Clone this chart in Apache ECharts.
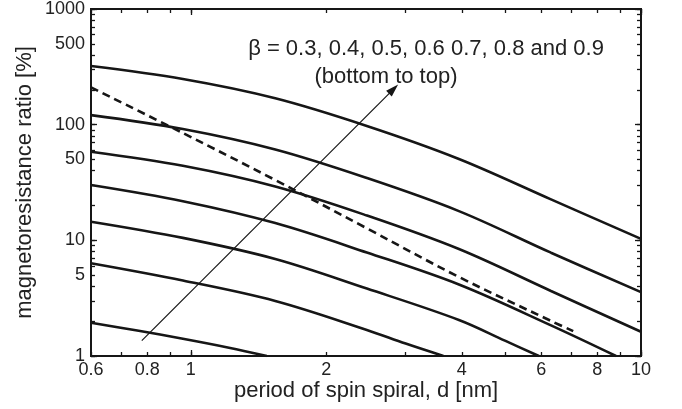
<!DOCTYPE html>
<html>
<head>
<meta charset="utf-8">
<script src="https://cdn.jsdelivr.net/npm/echarts@6/dist/echarts.min.js"></script>
<style>
  html, body { margin: 0; padding: 0; background: #fff; }
  #main { width: 682px; height: 409px; }
</style>
</head>
<body>
<div id="main"></div>
<script>
// MR ratio [%] vs spin spiral period d [nm], one curve per beta (top = 0.9)
const beta09 = [[0.6, 321], [0.96, 248], [1.54, 169], [2.46, 97.4], [3.94, 50.5], [6.31, 22.6], [10, 10.3]];
const beta08 = [[0.6, 121], [0.96, 91.7], [1.54, 61], [2.46, 34.6], [3.94, 17.9], [6.31, 7.82], [10, 3.57]];
const beta07 = [[0.6, 58.4], [0.96, 44.1], [1.54, 29.2], [2.46, 16.4], [3.94, 8.41], [6.31, 3.65], [10, 1.62]];
const beta06 = [[0.6, 30.1], [0.96, 21.8], [1.54, 14.1], [2.46, 7.85], [3.94, 4.15], [6.31, 1.84], [8.8, 1]];
const beta05 = [[0.6, 14.5], [0.96, 10.5], [1.54, 6.9], [2.46, 3.83], [3.94, 2.05], [5.0, 1.35], [5.93, 1]];
const beta04 = [[0.6, 6.33], [0.96, 4.49], [1.54, 2.99], [2.46, 1.68], [3.0, 1.28], [3.64, 1]];
const beta03 = [[0.6, 1.94], [0.76, 1.66], [0.96, 1.41], [1.215, 1.18], [1.475, 1]];
const dashedCurve = [[0.6, 210], [0.96, 84.7], [1.54, 33.2], [2.46, 12.7], [3.94, 4.82], [6.31, 2.01], [7.07, 1.64]];

const arrowFrom = [0.778, 1.36];
const arrowTo = [2.82, 203];

const xTicks = [0.6, 0.7, 0.8, 0.9, 1, 2, 3, 4, 5, 6, 7, 8, 9, 10];
const xMajor = [1, 10];
const xLabels = [0.6, 0.8, 1, 2, 4, 6, 8, 10];
const yTicks = [1, 2, 3, 4, 5, 6, 7, 8, 9, 10, 20, 30, 40, 50, 60, 70, 80, 90, 100,
  200, 300, 400, 500, 600, 700, 800, 900, 1000];
const yMajor = [1, 10, 100, 1000];
const yLabels = [1, 5, 10, 50, 100, 500, 1000];

const FONT = 'Liberation Sans, Arial, sans-serif';
const INK = '#161616';
const lg = v => Math.log10(v);

// linear helper axis in log10 units, only used for ticks and labels
function tickAxis(pos, min, max, ticks, len, labels) {
  return {
    type: 'value',
    position: pos,
    min: min,
    max: max,
    axisLine: { show: false, onZero: false },
    splitLine: { show: false },
    axisTick: {
      inside: true,
      length: len,
      customValues: ticks.map(lg),
      lineStyle: { color: INK, width: 1.3 }
    },
    axisLabel: labels ? {
      customValues: labels.map(lg),
      formatter: v => String(parseFloat(Math.pow(10, v).toPrecision(6))),
      fontSize: 18,
      fontFamily: FONT,
      color: '#222',
      margin: pos === 'bottom' ? 5 : 6
    } : { show: false }
  };
}

const chart = echarts.init(document.getElementById('main'));

const curves = [beta09, beta08, beta07, beta06, beta05, beta04, beta03];
const series = curves.map(c => ({
  type: 'line',
  data: c,
  xAxisIndex: 0,
  yAxisIndex: 0,
  showSymbol: false,
  smooth: 0.35,
  silent: true,
  lineStyle: { color: INK, width: 2.6 }
}));

series.push({
  type: 'line',
  data: dashedCurve,
  xAxisIndex: 0,
  yAxisIndex: 0,
  showSymbol: false,
  smooth: 0.35,
  silent: true,
  lineStyle: { color: INK, width: 2.6, type: [8, 5] },
  markLine: {
    silent: true,
    animation: false,
    symbol: ['none', 'triangle'],
    symbolSize: [8, 13],
    label: { show: false },
    lineStyle: { type: 'solid', color: INK, width: 1.2 },
    data: [[{ coord: arrowFrom }, { coord: arrowTo }]]
  }
});

const xMin = 0.6, xMax = 10, yMin = 1, yMax = 1000;

chart.setOption({
  animation: false,
  backgroundColor: '#fff',
  grid: {
    left: 91, right: 41, top: 9, bottom: 53,
    show: true,
    borderColor: INK,
    borderWidth: 2
  },
  xAxis: [
    {
      type: 'log', logBase: 10, min: xMin, max: xMax,
      axisLine: { show: false, onZero: false }, axisTick: { show: false },
      axisLabel: { show: false }, splitLine: { show: false },
      name: 'period of spin spiral, d [nm]',
      nameLocation: 'middle',
      nameGap: 24,
      nameTextStyle: { fontSize: 22, fontFamily: FONT, color: '#222' }
    },
    tickAxis('bottom', lg(xMin), lg(xMax), xTicks, 4, xLabels),
    tickAxis('bottom', lg(xMin), lg(xMax), xMajor, 6),
    tickAxis('top', lg(xMin), lg(xMax), xTicks, 4),
    tickAxis('top', lg(xMin), lg(xMax), xMajor, 6)
  ],
  yAxis: [
    {
      type: 'log', logBase: 10, min: yMin, max: yMax,
      axisLine: { show: false, onZero: false }, axisTick: { show: false },
      axisLabel: { show: false }, splitLine: { show: false },
      name: 'magnetoresistance ratio [%]',
      nameLocation: 'middle',
      nameGap: 55,
      nameTextStyle: { fontSize: 22, fontFamily: FONT, color: '#222' }
    },
    tickAxis('left', lg(yMin), lg(yMax), yTicks, 4, yLabels),
    tickAxis('left', lg(yMin), lg(yMax), yMajor, 6),
    tickAxis('right', lg(yMin), lg(yMax), yTicks, 4),
    tickAxis('right', lg(yMin), lg(yMax), yMajor, 6)
  ],
  graphic: [
    {
      type: 'text', x: 426, y: 49, silent: true,
      style: {
        text: 'β = 0.3, 0.4, 0.5, 0.6 0.7, 0.8 and 0.9',
        align: 'center', verticalAlign: 'middle',
        fontSize: 22, fontFamily: FONT, fill: '#222'
      }
    },
    {
      type: 'text', x: 386, y: 77, silent: true,
      style: {
        text: '(bottom to top)',
        align: 'center', verticalAlign: 'middle',
        fontSize: 22, fontFamily: FONT, fill: '#222'
      }
    }
  ],
  series: series
});
</script>
</body>
</html>
